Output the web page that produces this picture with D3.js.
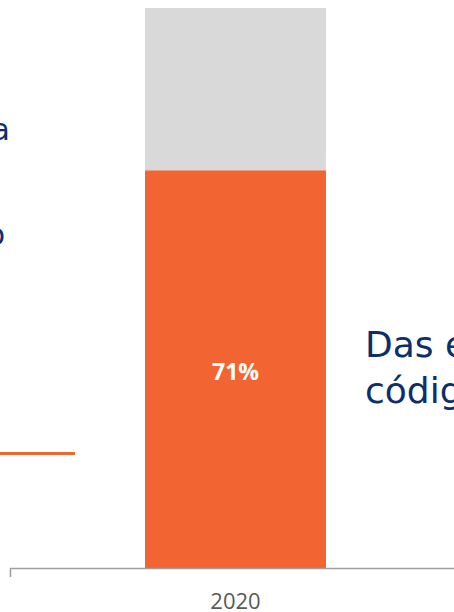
<!DOCTYPE html>
<html>
<head>
<meta charset="utf-8">
<script src="https://cdn.jsdelivr.net/npm/d3@7"></script>
<style>
  body { margin: 0; background: #fff; }
  svg { display: block; }
</style>
</head>
<body>
<script>
// chart values
var years = ["2020"];
var share = [71];      // orange part, percent
var rest = [29];       // grey remainder
var barLabels = ["71%"];

var width = 454, height = 612;
var x = d3.scaleBand()
    .domain(years)
    .range([10, 461])
    .paddingInner(0)
    .paddingOuter(0.746);
var y = d3.scaleLinear()
    .domain([0, 100])
    .range([568, 8]);

var svg = d3.select("body").append("svg")
    .attr("width", width)
    .attr("height", height);

// slide text cut off at the edges
svg.append("text")
    .attr("x", 10).attr("y", 140)
    .attr("text-anchor", "end")
    .style("font-family", "DejaVu Sans")
    .style("font-size", "30px")
    .style("fill", "#0b2f6b")
    .text("a");
svg.append("text")
    .attr("x", 5).attr("y", 245)
    .attr("text-anchor", "end")
    .style("font-family", "DejaVu Sans")
    .style("font-size", "30px")
    .style("fill", "#0b2f6b")
    .text("o");
svg.append("line")
    .attr("x1", 0).attr("x2", 75)
    .attr("y1", 453.5).attr("y2", 453.5)
    .style("stroke", "#f26532")
    .style("stroke-width", 3);

// stacked bar
var g = svg.append("g");
g.selectAll("rect.rest")
    .data(years)
    .enter().append("rect")
    .attr("class", "rest")
    .attr("x", function (d) { return x(d); })
    .attr("width", x.bandwidth())
    .attr("y", function (d, i) { return y(share[i] + rest[i]); })
    .attr("height", function (d, i) { return y(share[i]) - y(share[i] + rest[i]); })
    .style("fill", "#d9d9d9");
g.selectAll("rect.share")
    .data(years)
    .enter().append("rect")
    .attr("class", "share")
    .attr("x", function (d) { return x(d); })
    .attr("width", x.bandwidth())
    .attr("y", function (d, i) { return y(share[i]); })
    .attr("height", function (d, i) { return y(0) - y(share[i]); })
    .style("fill", "#f26532");
g.selectAll("text.lbl")
    .data(years)
    .enter().append("text")
    .attr("class", "lbl")
    .attr("x", function (d) { return x(d) + x.bandwidth() / 2; })
    .attr("y", function (d, i) { return y(share[i] / 2) + 11; })
    .attr("text-anchor", "middle")
    .style("font-family", "Open Sans")
    .style("font-weight", "bold")
    .style("font-size", "23px")
    .style("fill", "#fff")
    .text(function (d, i) { return barLabels[i]; });

// x axis
var xAxis = d3.axisBottom(x).tickSizeInner(0).tickSizeOuter(9).tickPadding(0);
var ax = svg.append("g")
    .attr("transform", "translate(0," + y(0) + ")")
    .call(xAxis);
ax.select(".domain").style("stroke", "#9e9e9e").style("stroke-width", 1.5);
ax.selectAll(".tick text")
    .attr("dy", null)
    .attr("y", 41)
    .style("font-family", "Open Sans")
    .style("font-size", "22px")
    .style("fill", "#595959");

// right text block
var words = ["Das e", "códig"];
svg.selectAll("text.side")
    .data(words)
    .enter().append("text")
    .attr("class", "side")
    .attr("x", 365)
    .attr("y", function (d, i) { return 357 + i * 46; })
    .style("font-family", "DejaVu Sans")
    .style("font-size", "36px")
    .style("fill", "#0b2f6b")
    .text(function (d) { return d; });
</script>
</body>
</html>
